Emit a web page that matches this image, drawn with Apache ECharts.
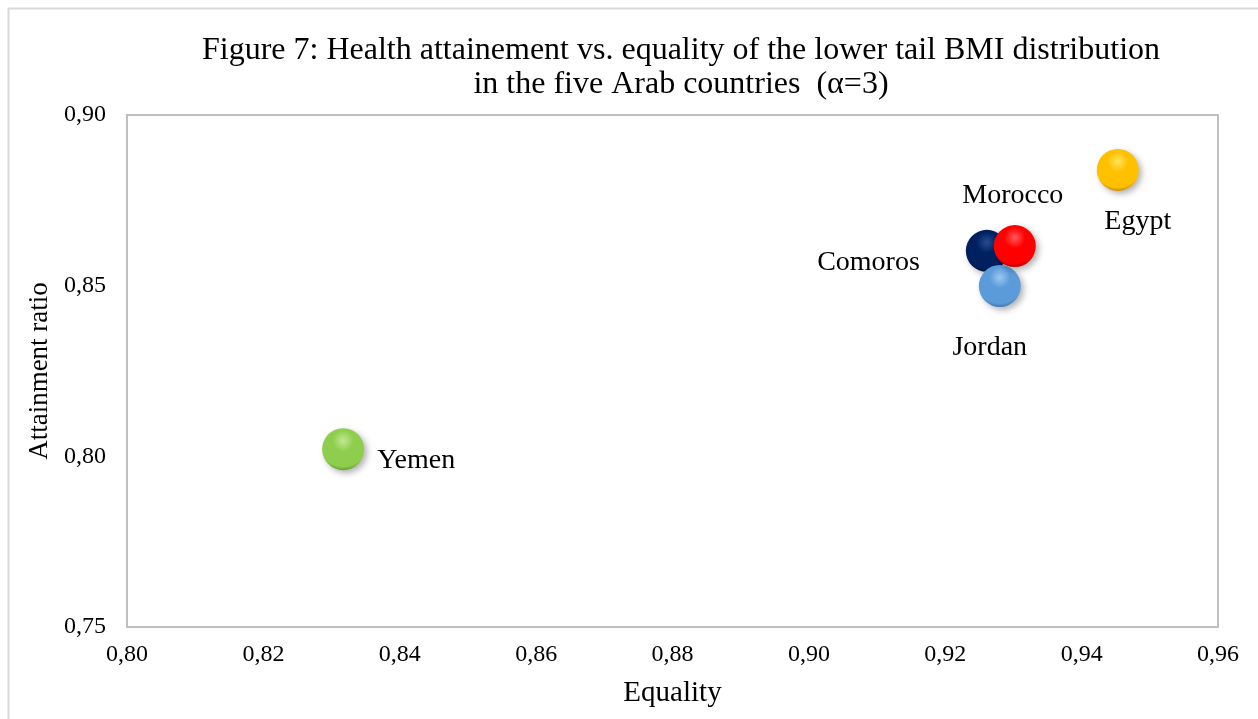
<!DOCTYPE html>
<html lang="en">
  <head>
    <meta charset="UTF-8" />
    <title>Figure 7 - Health attainment vs. equality</title>
    <script src="https://cdn.jsdelivr.net/npm/echarts@6/dist/echarts.min.js"></script>
    <style>
      html, body { margin: 0; padding: 0; background: #fff; }
      #chart { width: 1258px; height: 719px; }
    </style>
  </head>
  <body>
    <div id="chart"></div>
  </body>
</html>
<script>
  // data
  const countries = ["Comoros", "Jordan", "Morocco", "Egypt", "Yemen"];
  const equality = [0.9261, 0.928, 0.9302, 0.9453, 0.8317];
  const attainment = [0.8602, 0.8499, 0.8616, 0.8839, 0.8021];
  const xTicks = [0.8, 0.82, 0.84, 0.86, 0.88, 0.9, 0.92, 0.94, 0.96];
  const yTicks = [0.75, 0.8, 0.85, 0.9];

  // bubble colours (highlight, base, rim) + where each name sits
  const colors = {
    Comoros: ["#2a4c90", "#002060", "#00102e"],
    Jordan: ["#9cc8f0", "#5b9bd9", "#3a70a8"],
    Morocco: ["#ff5a5a", "#ff0000", "#a80000"],
    Egypt: ["#ffe45a", "#ffc000", "#c08000"],
    Yemen: ["#c0ea90", "#8fce4c", "#5a9626"],
  };
  const labelPos = {
    Comoros: { position: "left", distance: 46, offset: [0, 12] },
    Jordan: { position: "bottom", distance: 27, offset: [-10, 0] },
    Morocco: { position: "top", distance: 15, offset: [-2, 0] },
    Egypt: { position: "bottom", distance: 17, offset: [20, 0] },
    Yemen: { position: "right", distance: 13, offset: [0, 11] },
  };

  const fmt = (v) => v.toFixed(2).replace(".", ",");
  const font = "Liberation Serif";

  const chart = echarts.init(document.getElementById("chart"));

  const series = countries.map((name, i) => ({
    name: name,
    type: "scatter",
    symbolSize: 42,
    z: 2 + i,
    data: [[equality[i], attainment[i]]],
    itemStyle: {
      opacity: 1,
      color: {
        type: "radial",
        x: 0.5,
        y: 0.3,
        r: 0.72,
        colorStops: [
          { offset: 0, color: colors[name][0] },
          { offset: 0.35, color: colors[name][1] },
          { offset: 0.85, color: colors[name][1] },
          { offset: 1, color: colors[name][2] },
        ],
      },
      shadowBlur: 6,
      shadowOffsetX: 3,
      shadowOffsetY: 3,
      shadowColor: "rgba(0,0,0,0.3)",
    },
    label: Object.assign(
      {
        show: true,
        formatter: name,
        color: "#000",
        textBorderWidth: 0,
        fontFamily: font,
        fontSize: 28,
      },
      labelPos[name]
    ),
    emphasis: { disabled: true },
  }));

  const option = {
    backgroundColor: "#fff",
    animation: false,
    title: {
      text: "Figure 7: Health attainement vs. equality of the lower tail BMI distribution\nin the five Arab countries  (\u03b1=3)",
      left: 676,
      textAlign: "center",
      top: 29,
      textStyle: {
        fontFamily: font,
        fontWeight: "normal",
        fontSize: 32,
        lineHeight: 34,
        color: "#000",
      },
    },
    graphic: [
      {
        type: "rect",
        shape: { x: 8.5, y: 8.5, width: 1270, height: 730 },
        style: { fill: "none", stroke: "#d9d9d9", lineWidth: 2 },
        silent: true,
      },
    ],
    grid: {
      left: 127,
      top: 115,
      right: 40,
      bottom: 92,
      show: true,
      borderColor: "#bfbfbf",
      borderWidth: 2,
      backgroundColor: "#fff",
    },
    xAxis: {
      type: "value",
      min: xTicks[0],
      max: xTicks[xTicks.length - 1],
      interval: 0.02,
      name: "Equality",
      nameLocation: "middle",
      nameGap: 52,
      nameTextStyle: { fontFamily: font, fontSize: 29, color: "#000" },
      axisLine: { show: false },
      axisTick: { show: false },
      splitLine: { show: false },
      axisLabel: {
        formatter: fmt,
        margin: 16,
        fontFamily: font,
        fontSize: 24,
        color: "#000",
        showMinLabel: true,
        showMaxLabel: true,
      },
    },
    yAxis: {
      type: "value",
      min: yTicks[0],
      max: yTicks[yTicks.length - 1],
      interval: 0.05,
      name: "Attainment ratio",
      nameLocation: "middle",
      nameGap: 69,
      nameTextStyle: { fontFamily: font, fontSize: 27, color: "#000" },
      axisLine: { show: false },
      axisTick: { show: false },
      splitLine: { show: false },
      axisLabel: {
        formatter: fmt,
        margin: 21,
        fontFamily: font,
        fontSize: 24,
        color: "#000",
      },
    },
    series: series,
  };
  chart.setOption(option);
</script>
